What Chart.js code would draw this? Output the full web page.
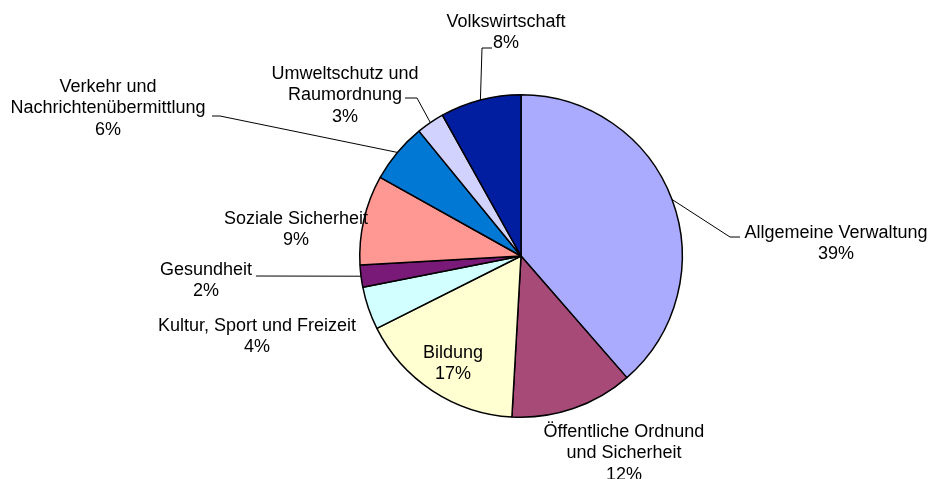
<!DOCTYPE html>
<html>
<head>
<meta charset="utf-8">
<script src="https://cdn.jsdelivr.net/npm/chart.js@4"></script>
<style>
  html, body { margin: 0; padding: 0; background: #fff; }
  #wrap { width: 929px; height: 479px; position: relative; }
</style>
</head>
<body>
<div id="wrap"><canvas id="pie-chart"></canvas></div>
<script>
// Kategorien und Anteile (im Uhrzeigersinn ab 12 Uhr)
const categories = [
  ['Allgemeine Verwaltung'],
  ['Öffentliche Ordnund', 'und Sicherheit'],
  ['Bildung'],
  ['Kultur, Sport und Freizeit'],
  ['Gesundheit'],
  ['Soziale Sicherheit'],
  ['Verkehr und', 'Nachrichtenübermittlung'],
  ['Umweltschutz und', 'Raumordnung'],
  ['Volkswirtschaft'],
];
const shares = [38.6, 12.3, 16.7, 4.3, 2.2, 9.0, 6.0, 2.8, 8.1];
const sliceColors = ['#AAAAFF', '#A84A78', '#FFFFD2', '#D2FFFF', '#7A1A78',
                     '#FF9892', '#0078D4', '#D2D2FF', '#021EA0'];

// Platzierung der Beschriftungen: Textmitte der ersten Zeile, optionale Führungslinie
const labelLayout = [
  { x: 836, y: 233, leader: [[740, 237], [730, 237]] },
  { x: 624, y: 432 },
  { x: 453, y: 353 },
  { x: 257, y: 326 },
  { x: 206, y: 270, leader: [[256, 276]] },
  { x: 296, y: 219 },
  { x: 108, y: 87, leader: [[212, 116], [220, 116]] },
  { x: 345, y: 74, leader: [[405, 98], [417, 98]] },
  { x: 506, y: 22, leader: [[492, 48], [482, 48]] },
];

const FONT = '18px "Liberation Sans", Arial, sans-serif';
const LINE_H = 21.5;

const labelPlugin = {
  id: 'pieLabels',
  afterDatasetsDraw(chart) {
    const ctx = chart.ctx;
    const arcs = chart.getDatasetMeta(0).data;
    ctx.save();
    arcs.forEach((arc, i) => {
      const lay = labelLayout[i];
      const p = arc.getProps(['x', 'y', 'startAngle', 'endAngle', 'outerRadius'], true);
      const mid = (p.startAngle + p.endAngle) / 2;
      if (lay.leader) {
        const ex = p.x + Math.cos(mid) * p.outerRadius;
        const ey = p.y + Math.sin(mid) * p.outerRadius;
        ctx.beginPath();
        ctx.strokeStyle = '#000';
        ctx.lineWidth = 1;
        lay.leader.forEach((pt, k) => {
          if (k === 0) ctx.moveTo(pt[0], pt[1]);
          else ctx.lineTo(pt[0], pt[1]);
        });
        ctx.lineTo(ex, ey);
        ctx.stroke();
      }
      const lines = categories[i].concat([Math.round(shares[i]) + '%']);
      ctx.font = FONT;
      ctx.fillStyle = '#000';
      ctx.textAlign = 'center';
      ctx.textBaseline = 'middle';
      lines.forEach((t, k) => ctx.fillText(t, lay.x, lay.y + k * LINE_H));
    });
    ctx.restore();
  }
};

new Chart(document.getElementById('pie-chart'), {
  type: 'pie',
  data: {
    labels: categories.map((c) => c.join(' ')),
    datasets: [{
      data: shares,
      backgroundColor: sliceColors,
      borderColor: '#000',
      borderWidth: 1.5,
    }],
  },
  options: {
    responsive: true,
    maintainAspectRatio: false,
    animation: false,
    layout: { padding: { left: 359, right: 246, top: 94, bottom: 61 } },
    plugins: {
      legend: { display: false },
      tooltip: { enabled: false },
    },
  },
  plugins: [labelPlugin],
});
</script>
</body>
</html>
